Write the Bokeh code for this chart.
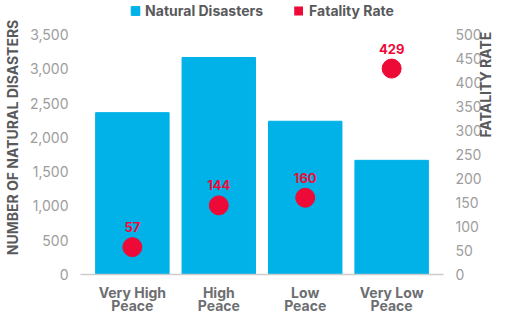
from bokeh.plotting import figure
from bokeh.models import (Range1d, LinearAxis, FixedTicker, NumeralTickFormatter,
                          Legend, LegendItem)
from bokeh.core.properties import value
from bokeh.embed import file_html
from bokeh.resources import INLINE

categories = ["Very High\nPeace", "High\nPeace", "Low\nPeace", "Very Low\nPeace"]
disasters = [2360, 3165, 2235, 1665]
fatality = [57, 144, 160, 429]
left_ticks = [0, 500, 1000, 1500, 2000, 2500, 3000, 3500]
right_ticks = [0, 50, 100, 150, 200, 250, 300, 350, 400, 450, 500]

CYAN = "#00B2E8"
RED = "#EE0A37"
FONT = "Inter"

xs = list(range(len(categories)))

# frame spans full height above the axis; extra headroom holds the legend
HEAD = 274 / 240
p = figure(width=509, height=327, x_range=Range1d(-0.6, 3.6),
           y_range=Range1d(0, left_ticks[-1] * HEAD),
           output_backend="svg", toolbar_location=None,
           min_border_left=78, min_border_right=66, min_border_top=0, min_border_bottom=53)
p.extra_y_ranges = {"rate": Range1d(0, right_ticks[-1] * HEAD)}
p.outline_line_color = None
p.grid.visible = False
p.background_fill_color = "white"
p.border_fill_color = "white"

bars = p.vbar(x=xs, top=disasters, width=0.85, color=CYAN)
legend_red = p.vbar(x=xs, top=0, bottom=0, width=0.85, fill_color=RED, line_color=None)
p.scatter(x=xs, y=fatality, y_range_name="rate", size=19, color=RED)
p.text(x=xs, y=fatality, text=[str(v) for v in fatality], y_range_name="rate",
       y_offset=-20, text_align="center", text_baseline="middle",
       text_font=value(FONT), text_font_size="13px", text_font_style="bold",
       text_color=RED)

# left axis
ya = p.yaxis[0]
ya.ticker = FixedTicker(ticks=left_ticks)
ya.formatter = NumeralTickFormatter(format="0,0")
ya.axis_label = "NUMBER OF NATURAL DISASTERS"
ya.axis_label_text_font = FONT
ya.axis_label_text_font_size = "14px"
ya.axis_label_text_font_style = "bold"
ya.axis_label_text_color = "#58595b"
ya.axis_label_standoff = 6
ya.major_label_text_font = FONT
ya.major_label_text_font_size = "14px"
ya.major_label_text_color = "#9d9d9d"
ya.major_label_standoff = 6
ya.axis_line_color = None
ya.major_tick_line_color = None
ya.minor_tick_line_color = None

# right axis (tick labels)
ra = LinearAxis(y_range_name="rate", ticker=FixedTicker(ticks=right_ticks))
ra.major_label_text_font = FONT
ra.major_label_text_font_size = "14px"
ra.major_label_text_color = "#9d9d9d"
ra.major_label_standoff = 6
ra.axis_line_color = None
ra.major_tick_line_color = None
ra.minor_tick_line_color = None
p.add_layout(ra, "right")

# right axis title (separate axis so its bounds set the title position)
rt = LinearAxis(y_range_name="rate", ticker=FixedTicker(ticks=[]),
                bounds=(0, right_ticks[-1] * 0.575))
rt.axis_label = "FATALITY RATE"
rt.axis_label_text_font = FONT
rt.axis_label_text_font_size = "14px"
rt.axis_label_text_font_style = "bold"
rt.axis_label_text_color = "#58595b"
rt.axis_label_standoff = 0
try:
    rt.axis_label_orientation = 1.5708
except Exception:
    pass
rt.major_label_text_font_size = "0px"
rt.major_label_standoff = 0
rt.axis_line_color = None
rt.major_tick_line_color = None
rt.minor_tick_line_color = None
rt.major_tick_out = 0
rt.minor_tick_out = 0
p.add_layout(rt, "right")

# bottom axis
xa = p.xaxis[0]
xa.ticker = FixedTicker(ticks=xs)
xa.major_label_overrides = {i: c for i, c in zip(xs, categories)}
xa.major_label_text_font = FONT
xa.major_label_text_font_size = "14px"
xa.major_label_text_font_style = "bold"
xa.major_label_text_color = "#6d6e71"
xa.major_label_text_line_height = 0.82
xa.major_label_standoff = 3
xa.axis_line_color = "#cccccc"
xa.axis_line_width = 1.5
xa.major_tick_line_color = None
xa.minor_tick_line_color = None

legend = Legend(items=[LegendItem(label="Natural Disasters", renderers=[bars]),
                       LegendItem(label="Fatality Rate", renderers=[legend_red])],
                orientation="horizontal", location="top_center",
                glyph_width=11, glyph_height=11, label_standoff=5, spacing=30,
                padding=7, margin=0, border_line_color=None, label_height=20,
                background_fill_alpha=0,
                label_text_font=FONT, label_text_font_style="bold",
                label_text_font_size="14px", label_text_color="#58595b")
p.add_layout(legend, "center")

open("out.html", "w").write(file_html(p, INLINE))
